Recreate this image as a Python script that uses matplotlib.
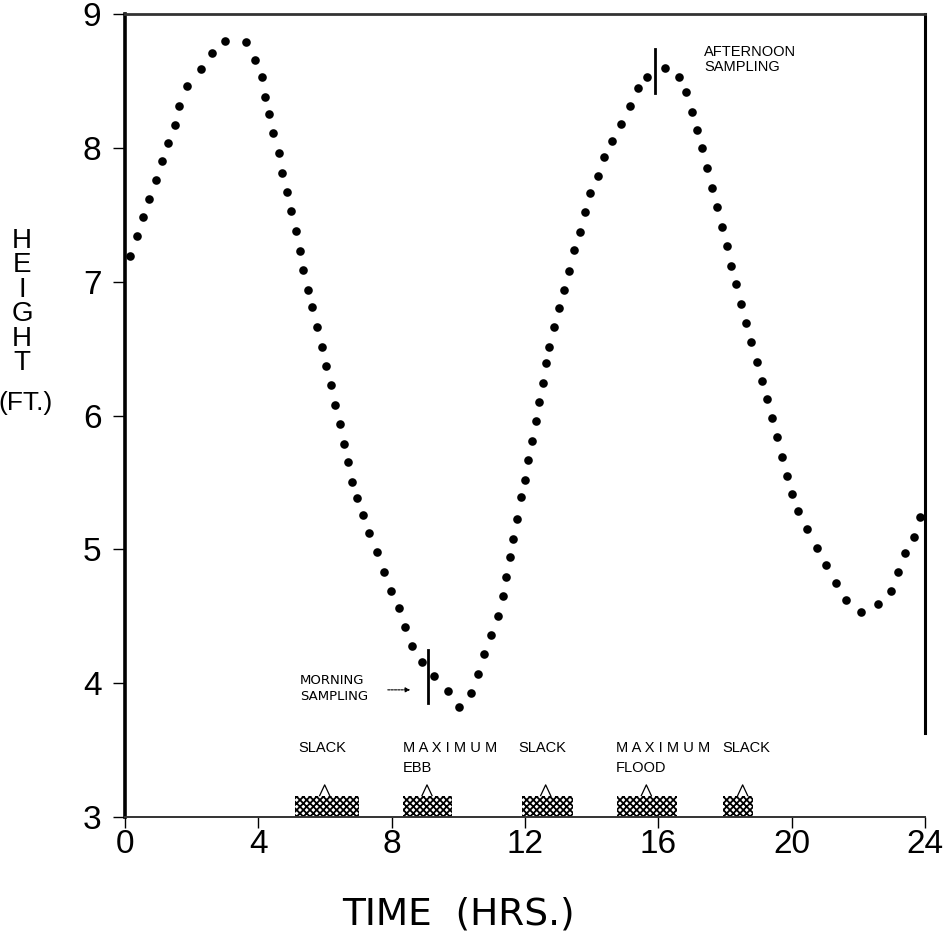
import numpy as np
import matplotlib.pyplot as plt

# leituras da maré (horas, pés)
hora = [0.15, 0.37, 0.53, 0.72, 0.92, 1.11, 1.30, 1.50, 1.62, 1.85,
        2.27, 2.60, 3.01, 3.62, 3.90, 4.11, 4.20, 4.33, 4.45, 4.61,
        4.71, 4.86, 4.98, 5.14, 5.25, 5.35, 5.50, 5.62, 5.75, 5.90,
        6.03, 6.17, 6.31, 6.44, 6.56, 6.68, 6.82, 6.95, 7.13, 7.33,
        7.55, 7.76, 7.98, 8.21, 8.40, 8.62, 8.90, 9.28, 9.68, 10.02,
        10.38, 10.58, 10.78, 10.98, 11.18, 11.33, 11.43, 11.54, 11.64, 11.76,
        11.87, 11.99, 12.09, 12.20, 12.32, 12.42, 12.54, 12.63, 12.73, 12.88,
        13.02, 13.17, 13.33, 13.47, 13.66, 13.80, 13.95, 14.18, 14.38, 14.61,
        14.88, 15.14, 15.39, 15.67, 16.21, 16.61, 16.84, 17.00, 17.15, 17.30,
        17.45, 17.60, 17.75, 17.90, 18.05, 18.19, 18.34, 18.49, 18.64, 18.79,
        18.96, 19.10, 19.25, 19.40, 19.55, 19.70, 19.85, 20.01, 20.18, 20.47,
        20.75, 21.04, 21.32, 21.62, 22.08, 22.59, 22.98, 23.19, 23.41, 23.66,
        23.84]
altura = [7.19, 7.34, 7.48, 7.62, 7.76, 7.90, 8.04, 8.17, 8.31, 8.46,
          8.59, 8.71, 8.80, 8.79, 8.66, 8.53, 8.38, 8.25, 8.11, 7.96,
          7.81, 7.67, 7.53, 7.38, 7.23, 7.09, 6.94, 6.81, 6.66, 6.51,
          6.37, 6.23, 6.08, 5.94, 5.79, 5.65, 5.50, 5.38, 5.26, 5.12,
          4.98, 4.83, 4.69, 4.56, 4.42, 4.28, 4.16, 4.05, 3.94, 3.82,
          3.93, 4.07, 4.22, 4.36, 4.50, 4.65, 4.79, 4.94, 5.08, 5.23,
          5.39, 5.52, 5.67, 5.81, 5.96, 6.10, 6.24, 6.39, 6.51, 6.66,
          6.80, 6.94, 7.08, 7.24, 7.37, 7.52, 7.66, 7.79, 7.93, 8.05,
          8.18, 8.31, 8.45, 8.53, 8.60, 8.53, 8.42, 8.27, 8.13, 8.00,
          7.85, 7.70, 7.56, 7.41, 7.27, 7.12, 6.98, 6.83, 6.69, 6.55,
          6.40, 6.26, 6.12, 5.98, 5.84, 5.69, 5.55, 5.41, 5.29, 5.15,
          5.01, 4.88, 4.75, 4.62, 4.53, 4.59, 4.69, 4.83, 4.97, 5.09,
          5.24]

# estados da corrente (faixas hachuradas no rodapé)
corr_ini = [5.11, 8.35, 11.90, 14.77, 17.93]
corr_fim = [7.01, 9.82, 13.43, 16.57, 18.85]
corr_pico = [5.99, 9.06, 12.62, 15.64, 18.53]
corr_txt = ['SLACK', 'M A X I M U M\nEBB', 'SLACK', 'M A X I M U M\nFLOOD', 'SLACK']
corr_txt_x = [5.19, 8.34, 11.79, 14.73, 17.91]
corr_topo = 3.16

# amostragens
amostra_t = [9.10, 15.91]
amostra_h = [(3.85, 4.25), (8.41, 8.74)]

borda_dir = 3.63   # fim da linha vertical da direita

xticks = [0, 4, 8, 12, 16, 20, 24]
yticks = [3, 4, 5, 6, 7, 8, 9]

plt.rcParams['hatch.linewidth'] = 1.3
plt.rcParams['hatch.color'] = 'black'

fig = plt.figure(figsize=(9.45, 9.48), dpi=100)
ax = fig.add_axes([0.1323, 0.1382, 0.8465, 0.8470])

ax.plot(hora, altura, 'o', color='black', ms=6.2, mec='none', clip_on=False)

# faixas de corrente
larg = np.array(corr_fim) - np.array(corr_ini)
ax.bar(corr_ini, corr_topo - 3, width=larg, bottom=3, align='edge',
       color='white', edgecolor='black', hatch='xxxxx', linewidth=0, zorder=2)
for p in corr_pico:
    ax.plot([p - 0.15, p, p + 0.15], [corr_topo, 3.24, corr_topo],
            color='black', lw=0.9, zorder=3)
for x, s in zip(corr_txt_x, corr_txt):
    ax.text(x, 3.565, s, ha='left', va='top', fontsize=10.5,
            family='Liberation Sans', linespacing=1.55)

# marcas de amostragem
for t, (h0, h1) in zip(amostra_t, amostra_h):
    ax.plot([t, t], [h0, h1], color='black', lw=2, zorder=3)

ax.text(5.25, 4.07, 'MORNING\nSAMPLING', ha='left', va='top', fontsize=9.5,
        family='DejaVu Sans', linespacing=1.35)
ax.annotate('', xy=(8.64, 3.95), xytext=(7.8, 3.95),
            arrowprops=dict(arrowstyle='-|>', lw=0.8, color='black',
                            linestyle=(0, (2, 1)), mutation_scale=7))
ax.text(17.37, 8.77, 'AFTERNOON\nSAMPLING', ha='left', va='top', fontsize=10.5,
        family='Liberation Sans', linespacing=1.1)

ax.set_xlim(0, 24)
ax.set_ylim(3, 9)
ax.set_xticks(xticks)
ax.set_yticks(yticks)
ax.tick_params(axis='both', labelsize=24, direction='out', color='black')
ax.tick_params(axis='x', length=8, width=1, pad=1)
ax.tick_params(axis='y', length=9, width=1, pad=8)
for lab in ax.get_xticklabels() + ax.get_yticklabels():
    lab.set_family('Liberation Sans')

ax.spines['right'].set_visible(False)
ax.spines['left'].set_linewidth(2.6)
ax.spines['top'].set_linewidth(2.0)
ax.spines['top'].set_color('#333333')
ax.spines['bottom'].set_linewidth(1.4)
ax.spines['bottom'].set_color('#333333')
ax.plot([24, 24], [borda_dir, 9], color='black', lw=2.2, clip_on=False)

# rótulos dos eixos
fig.text(458 / 945, 1 - 914 / 948, 'TIME  (HRS.)', ha='center', va='center',
         fontsize=27, family='DejaVu Sans')
fig.text(22 / 945, 1 - 302 / 948, 'H\nE\nI\nG\nH\nT', ha='center', va='center',
         fontsize=20, family='Liberation Sans', linespacing=0.93)
fig.text(26 / 945, 1 - 403 / 948, '(FT.)', ha='center', va='center',
         fontsize=19, family='Liberation Sans')

fig.savefig('out.png', dpi=100, facecolor='white')
